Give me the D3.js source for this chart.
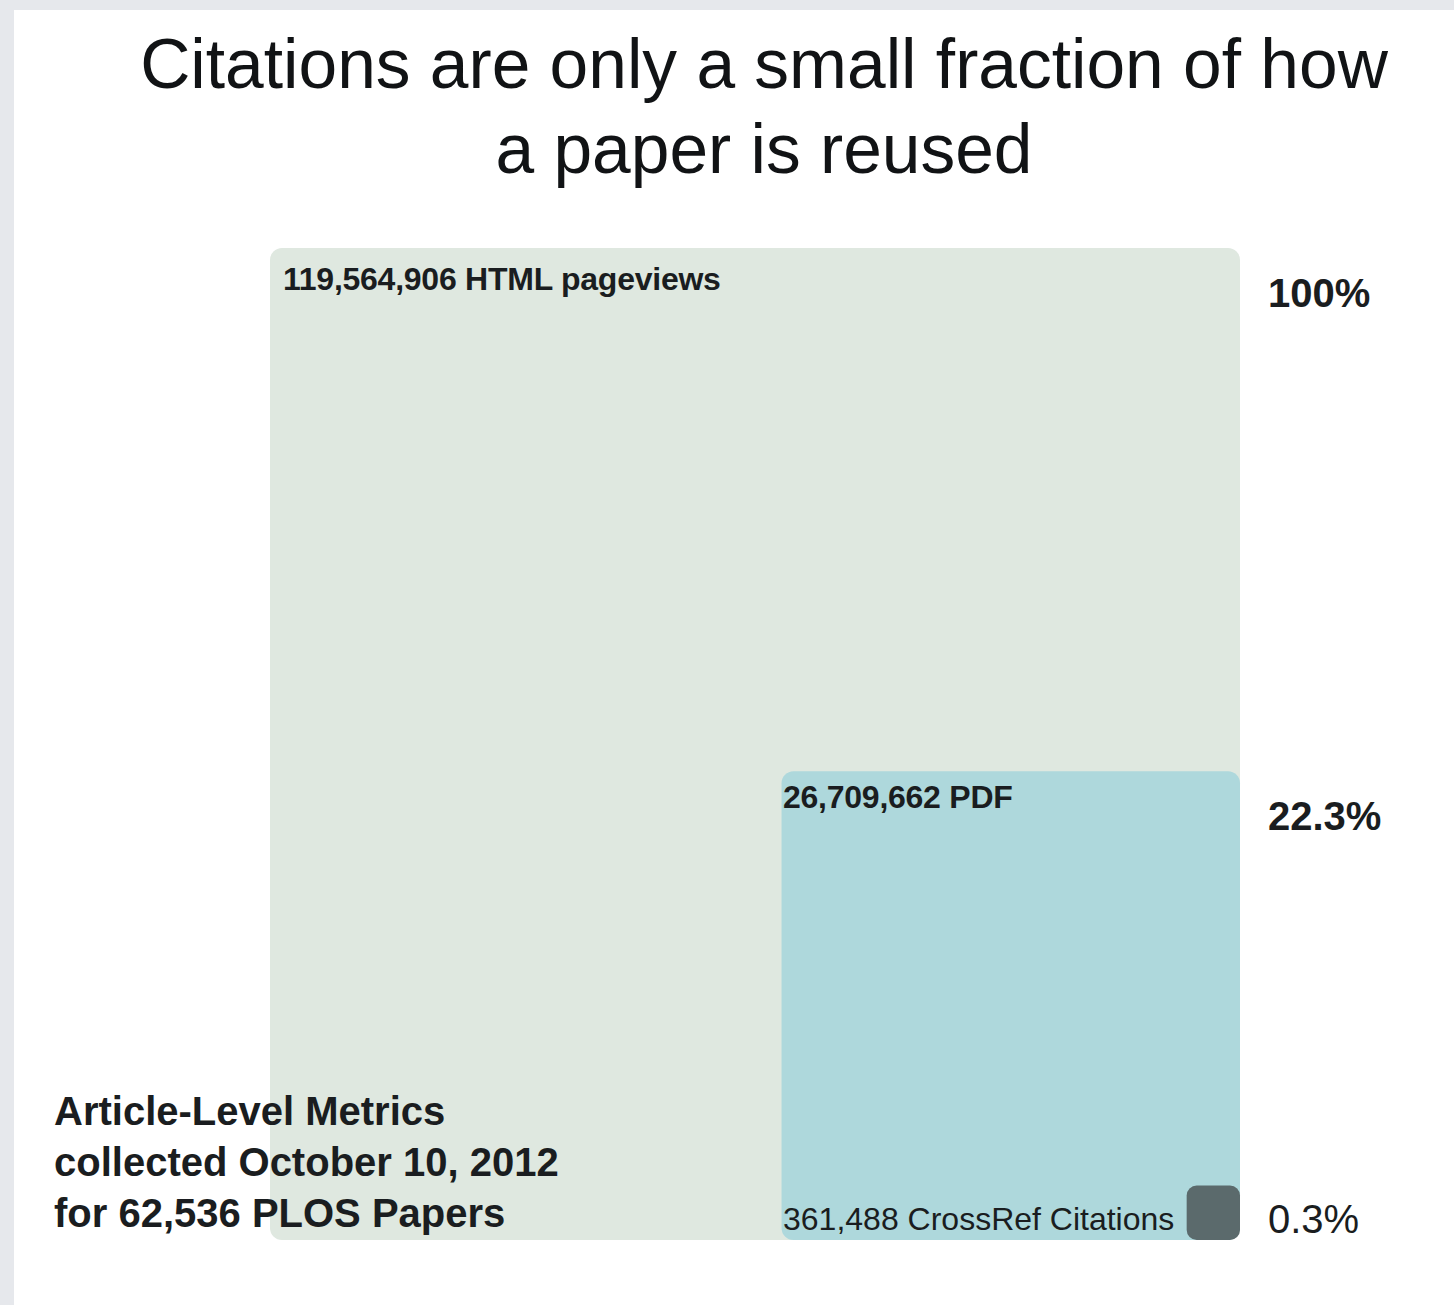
<!DOCTYPE html>
<html>
<head>
<meta charset="utf-8">
<script src="https://cdn.jsdelivr.net/npm/d3@7"></script>
<style>
  body { margin: 0; background: #e6e8ec; }
  svg { display: block; }
  text { font-family: "Liberation Sans", Arial, Helvetica, sans-serif; fill: #1a1d20; }
</style>
</head>
<body>
<script>

// Data ////////////////////////////////////

const metrics = ["HTML pageviews", "PDF", "CrossRef Citations"];
const counts = [119564906, 26709662, 361488];
const shares = ["100%", "22.3%", "0.3%"];
const colors = ["#dfe8e0", "#aed8dc", "#5b6a6c"];

const titleLines = ["Citations are only a small fraction of how", "a paper is reused"];
const noteLines = ["Article-Level Metrics", "collected October 10, 2012", "for 62,536 PLOS Papers"];

const width = 1454;
const height = 1305;

const svg = d3.select("body").append("svg")
    .attr("width", width)
    .attr("height", height);

// white panel inside the gray frame
svg.append("rect")
    .attr("x", 14).attr("y", 10)
    .attr("width", width - 14).attr("height", height - 10)
    .attr("fill", "#ffffff");

// Title

svg.append("g")
    .selectAll("text")
    .data(titleLines)
    .join("text")
    .attr("x", 764)
    .attr("y", (d, i) => 88 + i * 85)
    .attr("text-anchor", "middle")
    .attr("font-size", 69.5)
    .style("fill", "#111315")
    .text(d => d);

// Squares anchored bottom-right, area proportional to count

const right = 1240;
const bottom = 1240;

const sideX = d3.scaleSqrt().domain([0, counts[0]]).range([0, 970]);
const sideY = d3.scaleSqrt().domain([0, counts[0]]).range([0, 992]);

const data = metrics.map((m, i) => ({ metric: m, count: counts[i], share: shares[i], color: colors[i], i }));

svg.append("g")
    .selectAll("rect")
    .data(data)
    .join("rect")
    .attr("x", d => right - sideX(d.count))
    .attr("y", d => bottom - sideY(d.count))
    .attr("width", d => sideX(d.count))
    .attr("height", d => sideY(d.count))
    .attr("rx", d => d.i === 2 ? 10 : 12)
    .attr("fill", d => d.color);

// Labels inside squares

const fmt = d3.format(",");

svg.append("g")
    .selectAll("text")
    .data(data)
    .join("text")
    .attr("x", d => d.i === 0 ? right - sideX(d.count) + 13 : 783)
    .attr("y", d => d.i === 2 ? 1230 : bottom - sideY(d.count) + (d.i === 0 ? 42 : 37))
    .attr("font-size", 32)
    .attr("font-weight", d => d.i === 2 ? "normal" : "bold")
    .attr("letter-spacing", d => d.i === 2 ? 0 : -0.25)
    .text(d => fmt(d.count) + " " + d.metric);

// Share labels on the right

svg.append("g")
    .selectAll("text")
    .data(data)
    .join("text")
    .attr("x", 1268)
    .attr("y", d => d.i === 2 ? 1233 : bottom - sideY(d.count) + 59)
    .attr("font-size", 40)
    .attr("font-weight", d => d.i === 2 ? "normal" : "bold")
    .text(d => d.share);

// Note

svg.append("g")
    .selectAll("text")
    .data(noteLines)
    .join("text")
    .attr("x", 54)
    .attr("y", (d, i) => 1125 + i * 51)
    .attr("font-size", 40)
    .attr("font-weight", "bold")
    .text(d => d);

</script>
</body>
</html>
